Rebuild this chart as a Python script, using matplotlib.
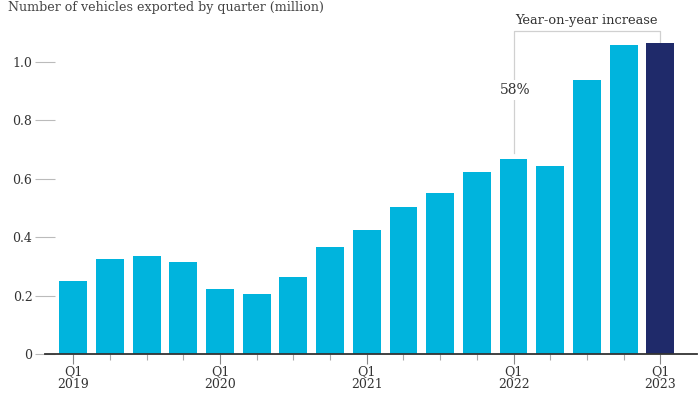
import matplotlib
matplotlib.use("Agg")
import matplotlib.pyplot as plt
import numpy as np

quarters = ["Q1 2019", "Q2 2019", "Q3 2019", "Q4 2019",
            "Q1 2020", "Q2 2020", "Q3 2020", "Q4 2020",
            "Q1 2021", "Q2 2021", "Q3 2021", "Q4 2021",
            "Q1 2022", "Q2 2022", "Q3 2022", "Q4 2022",
            "Q1 2023"]
exports = [0.25, 0.325, 0.336, 0.316,
           0.223, 0.206, 0.265, 0.367,
           0.425, 0.504, 0.551, 0.623,
           0.668, 0.645, 0.938, 1.058,
           1.065]
tick_labels = ["Q1\n2019", "Q1\n2020", "Q1\n2021", "Q1\n2022", "Q1\n2023"]
ytick_vals = [0, 0.2, 0.4, 0.6, 0.8, 1.0]
ytick_labels = ["0", "0.2", "0.4", "0.6", "0.8", "1.0"]
annot_label = "Year-on-year increase"
annot_value = "58%"

plt.rcParams['font.family'] = ['DejaVu Serif']

W, H = 700, 394
fig = plt.figure(figsize=(7, 3.94), dpi=100)
left, right, bottom, top = 45, 697, 354, 30
ax = fig.add_axes([left / W, 1 - bottom / H, (right - left) / W, (bottom - top) / H])

x = np.arange(len(quarters))
colors = ["#00b4dd"] * (len(quarters) - 1) + ["#1f2a6a"]
ax.bar(x, exports, width=0.76, color=colors, zorder=2)

ax.set_xlim(-0.77, 17.0)
ax.set_ylim(0, 1.11)

for s in ["top", "right", "left"]:
    ax.spines[s].set_visible(False)
ax.spines["bottom"].set_color("#333333")
ax.spines["bottom"].set_linewidth(1.3)
ax.spines["bottom"].set_zorder(3)

major_idx = [i for i, q in enumerate(quarters) if q.startswith("Q1")]
ax.set_xticks(major_idx)
ax.set_xticklabels(tick_labels, fontsize=9, color="#333333", linespacing=1.0)
ax.set_xticks(x, minor=True)
ax.tick_params(axis="x", which="major", length=7, width=0.8, color="#888888", pad=1)
ax.tick_params(axis="x", which="minor", length=4, width=0.8, color="#aaaaaa")

ax.set_yticks(ytick_vals)
ax.set_yticklabels(ytick_labels, fontsize=9, color="#333333")
ax.tick_params(axis="y", direction="inout", length=14, width=0.8, color="#bbbbbb", pad=2)

# annotation bracket
i0, i1 = 12, 16
ybr = 1.0 + (62 - 31) / 292
ax.plot([i0, i0, i1, i1], [exports[i0] + 0.02, ybr, ybr, exports[i1] + 0.005],
        color="#d0d0d0", lw=0.9, zorder=1, clip_on=False)
ax.text((i0 + i1) / 2 + 0.0, ybr + 0.015, annot_label, ha="center", va="bottom",
        fontsize=9.4, color="#333333")
ax.text(i0 + 0.05, 0.905, annot_value, ha="center", va="center", fontsize=10,
        color="#333333", bbox=dict(facecolor="white", edgecolor="none", pad=2), zorder=4)

fig.text(8 / W, 1 - 8 / H, "Number of vehicles exported by quarter (million)",
         ha="left", va="center", fontsize=9.1, color="#444444")

fig.savefig("out.png", dpi=100, facecolor="white")
